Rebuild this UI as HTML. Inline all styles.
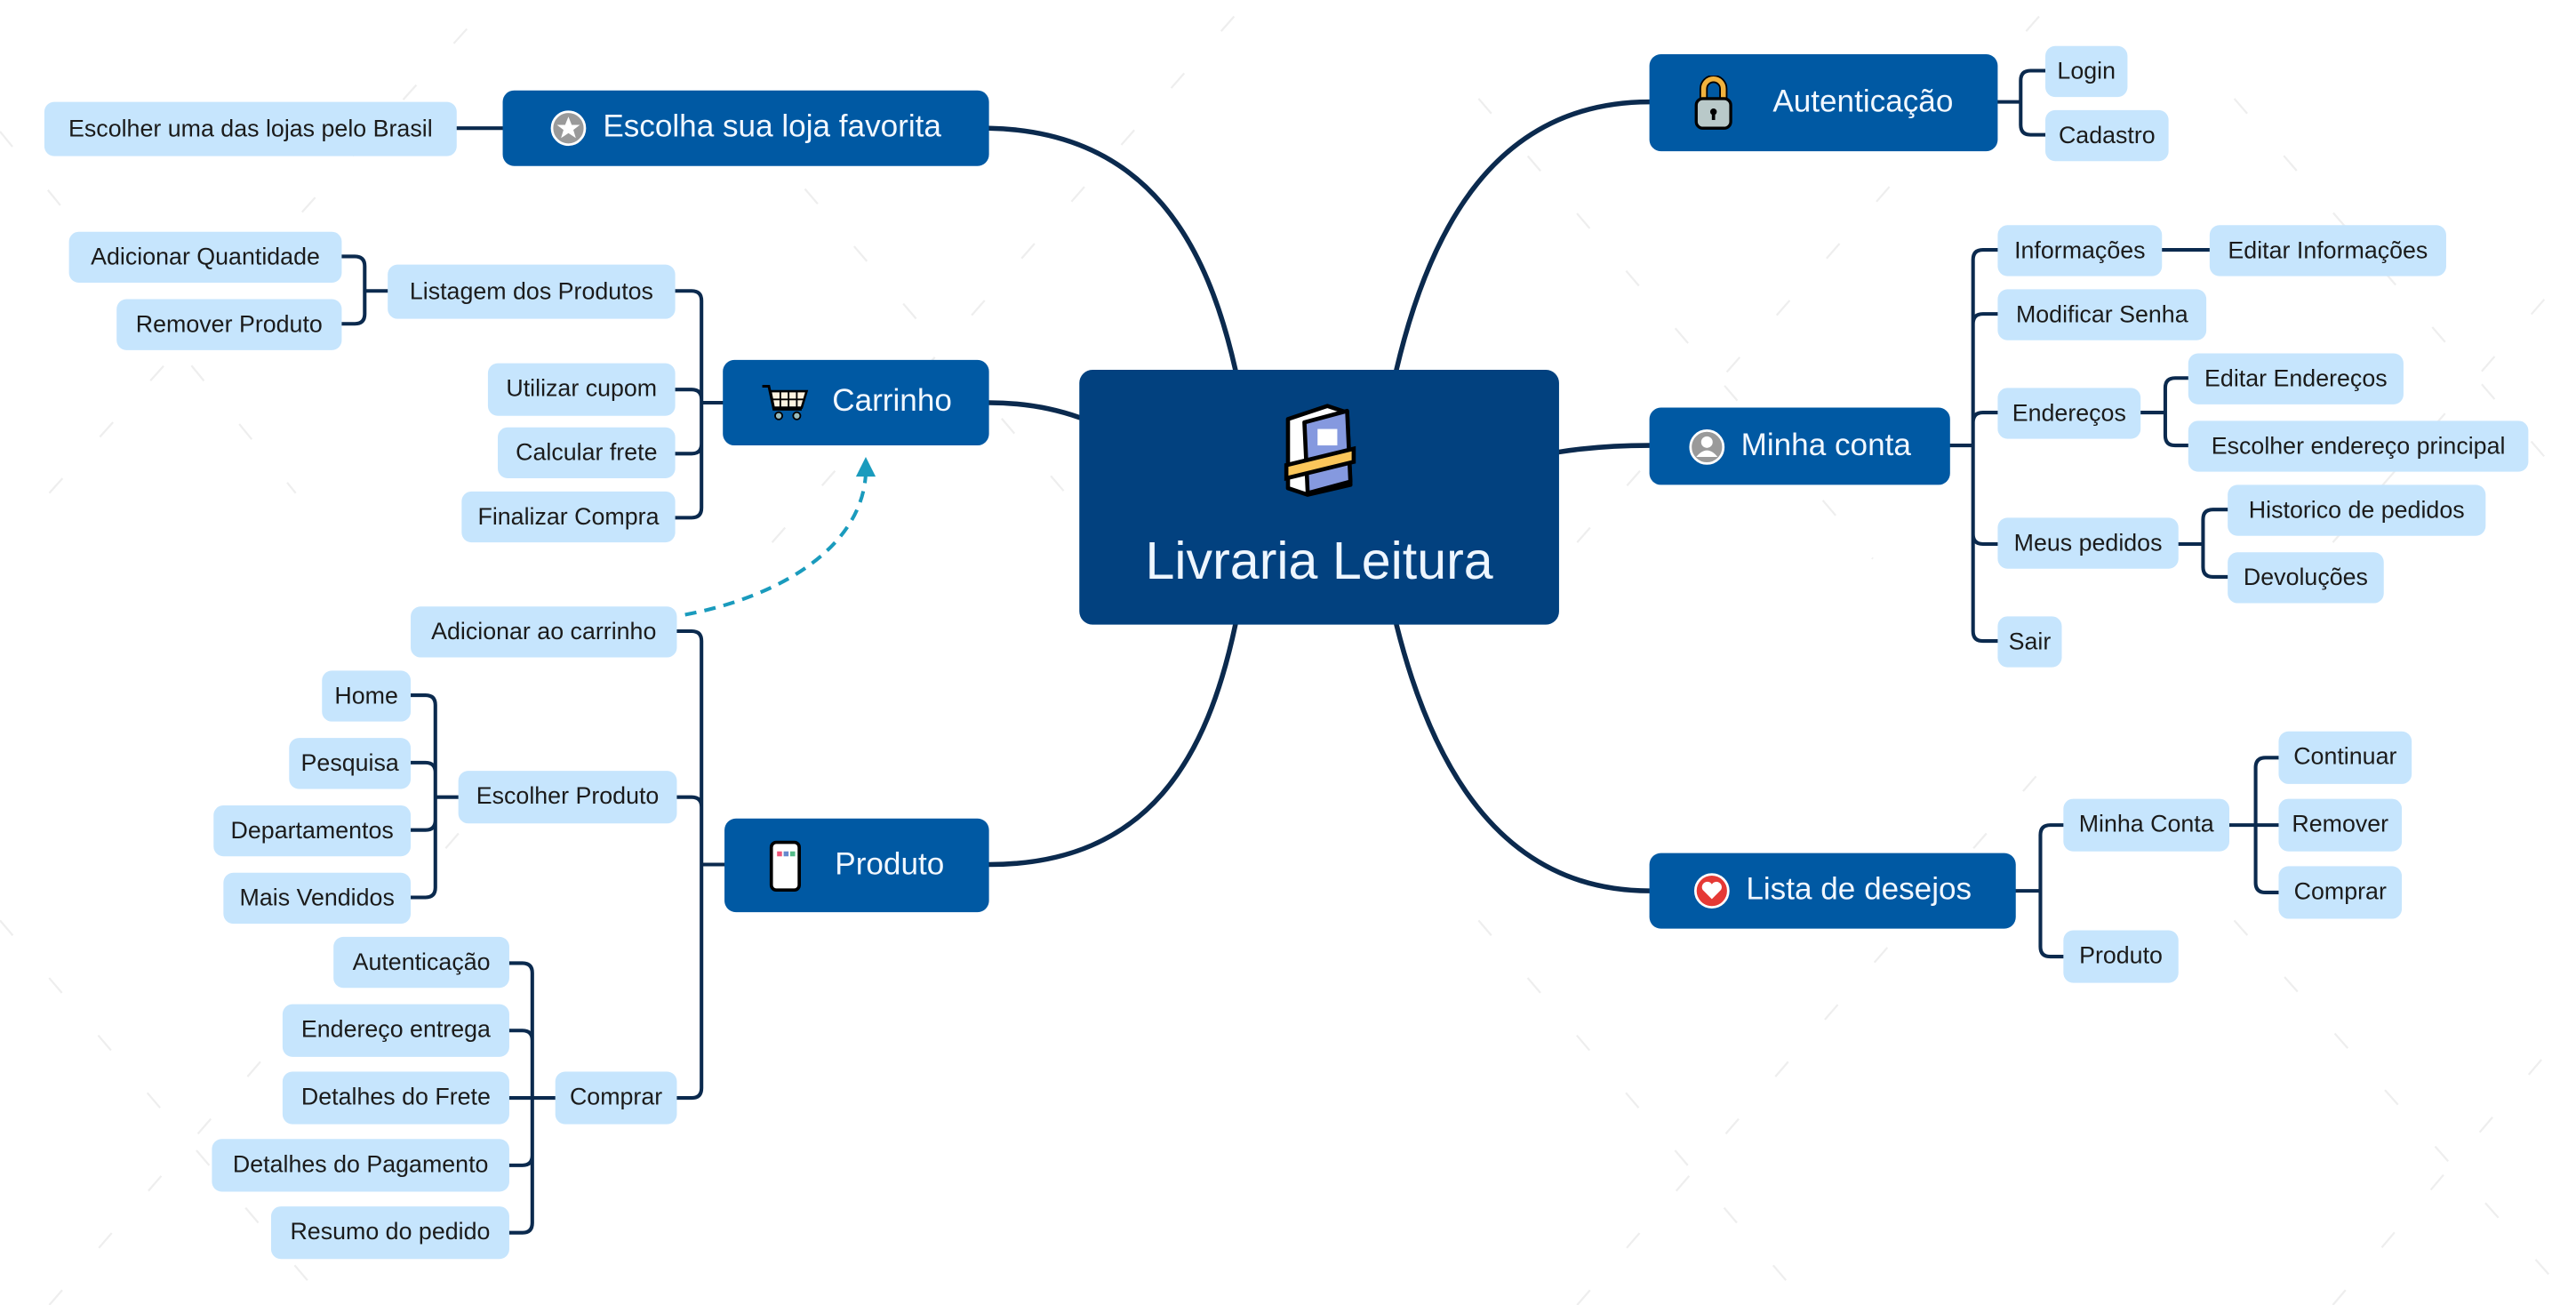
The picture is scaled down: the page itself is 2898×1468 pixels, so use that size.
<!DOCTYPE html>
<html><head><meta charset="utf-8">
<style>
html,body{margin:0;padding:0;background:#fff;overflow:hidden}
#w{width:2898px;height:1468px;position:relative;overflow:hidden;background:#fff}
#c{position:absolute;left:0;top:0;width:1568px;height:794px;transform:scale(1.8482,1.8489);transform-origin:0 0;font-family:"Liberation Sans",sans-serif}
.n{position:absolute;display:flex;align-items:center;justify-content:center;box-sizing:border-box;white-space:nowrap}
.s{background:#c6e5fd;border-radius:6px;font-size:14.5px;color:#1b1b1b}
.m{background:#0059a3;border-radius:7px;font-size:19px;color:#f2f8ff;font-weight:500}
.m svg{margin-right:10px}
svg.l{position:absolute;left:0;top:0}
</style></head><body><div id="w"><div id="c">
<svg class="l" width="1568" height="794" viewBox="0 0 1568 794" fill="none">
<g stroke="#eeeeee" stroke-width="1.2" stroke-dasharray="12 34">
<path d="M0,80 L180,300 M460,80 L700,360 M900,60 L1140,340 M1360,60 L1568,300 M0,560 L200,794 M900,560 L1100,794 M1360,560 L1568,794 M30,300 L300,0 M470,330 L760,0 M960,330 L1250,0 M1420,330 L1568,160 M30,794 L320,460 M960,794 L1250,460 M1420,794 L1568,620"/>
</g>
<g stroke="#0b2a4e" stroke-width="3" stroke-linecap="round">
<path d="M752,225 C735,150 700,80 602,78"/>
<path d="M657,254 C640,248 622,245 602,245"/>
<path d="M752,380 C735,460 700,526 602,526"/>
<path d="M850,225 C870,140 910,62 1004,62"/>
<path d="M949,275 C968,272 985,271 1004,271"/>
<path d="M850,380 C870,460 910,542 1004,542"/>
</g>
<g stroke="#0b2a4e" stroke-width="2.2" stroke-linecap="round">
<path d="M278,78 H306"/>
<path d="M440,245 H427 M427,245 V183 Q427,177 421,177 H411 M427,245 V243 Q427,237 421,237 H411 M427,245 V270 Q427,276 421,276 H411 M427,245 V309 Q427,315 421,315 H411"/>
<path d="M236,177 H222 M222,177 V162 Q222,156 216,156 H208 M222,177 V191 Q222,197 216,197 H208"/>
<path d="M441,526 H427 M427,526 V390 Q427,384 421,384 H412 M427,526 V491 Q427,485 421,485 H412 M427,526 V662 Q427,668 421,668 H412"/>
<path d="M279,485 H265 M265,485 V429 Q265,423 259,423 H250 M265,485 V470 Q265,464 259,464 H250 M265,485 V499 Q265,505 259,505 H250 M265,485 V540 Q265,546 259,546 H250"/>
<path d="M338,668 H324 M324,668 V592 Q324,586 318,586 H310 M324,668 V633 Q324,627 318,627 H310 M324,668 H310 M324,668 V703 Q324,709 318,709 H310 M324,668 V744 Q324,750 318,750 H310"/>
<path d="M1216,62 H1230 M1230,62 V49 Q1230,43 1236,43 H1245 M1230,62 V76 Q1230,82 1236,82 H1245"/>
<path d="M1187,271 H1201 M1201,271 V158 Q1201,152 1207,152 H1216 M1201,271 V197 Q1201,191 1207,191 H1216 M1201,271 V257 Q1201,251 1207,251 H1216 M1201,271 V325 Q1201,331 1207,331 H1216 M1201,271 V384 Q1201,390 1207,390 H1216"/>
<path d="M1316,152 H1345"/>
<path d="M1303,251 H1318 M1318,251 V236 Q1318,230 1324,230 H1332 M1318,251 V265 Q1318,271 1324,271 H1332"/>
<path d="M1326,331 H1341 M1341,331 V316 Q1341,310 1347,310 H1356 M1341,331 V345 Q1341,351 1347,351 H1356"/>
<path d="M1227,542 H1242 M1242,542 V508 Q1242,502 1248,502 H1256 M1242,542 V576 Q1242,582 1248,582 H1256"/>
<path d="M1357,502 H1373 M1373,502 V467 Q1373,461 1379,461 H1387 M1373,502 H1387 M1373,502 V537 Q1373,543 1379,543 H1387"/>
</g>
<path d="M417,374 C480,362 525,330 527,288" stroke="#1a9bbd" stroke-width="2.2" stroke-dasharray="7 5"/>
<path d="M521,290 L527,278 L533,290 Z" fill="#1a9bbd"/>
</svg>

<div class="n" style="left:657px;top:225px;width:292px;height:155px;background:#02417f;border-radius:8px;flex-direction:column">
<svg width="50" height="58" viewBox="0 0 50 58"><path d="M6,10 L30,2 L42,6 L44,50 L18,56 L6,52 Z" fill="#fff" stroke="#000" stroke-width="2.5" stroke-linejoin="round"/><path d="M16,12 L42,5 L44,48 L18,55 Z" fill="#8599df" stroke="#000" stroke-width="2.5" stroke-linejoin="round"/><rect x="24" y="16" width="12" height="10" fill="#fff"/><path d="M5,38 L46,28 L46,36 L5,46 Z" fill="#fbc65a" stroke="#000" stroke-width="2.5"/></svg>
<div style="font-size:32px;color:#eef6ff;margin-top:20px;font-weight:500">Livraria Leitura</div></div>

<div class="n m" style="left:306px;top:55px;width:296px;height:46px"><svg width="22" height="22" viewBox="0 0 22 22"><circle cx="11" cy="11" r="10" fill="#9a9a9a" stroke="#fff" stroke-width="1.5"/><path d="M11,4 L13,9 L18,9 L14,12 L15.5,17 L11,14 L6.5,17 L8,12 L4,9 L9,9 Z" fill="#fff"/></svg>Escolha sua loja favorita</div>
<div class="n m" style="left:440px;top:219px;width:162px;height:52px"><svg width="30" height="24" viewBox="0 0 30 24" style="margin-right:14px"><path d="M1,2 H5 L8,16 H25" stroke="#000" stroke-width="1.6" fill="none"/><path d="M6,5 H28 L25,15 H8 Z" fill="#fdf3e0" stroke="#000" stroke-width="1.4"/><path d="M12,5 V15 M17,5 V15 M22,5 V15 M7,10 H27" stroke="#000" stroke-width="1"/><circle cx="11" cy="20" r="2.2" fill="#9bb" stroke="#000"/><circle cx="22" cy="20" r="2.2" fill="#9bb" stroke="#000"/></svg>Carrinho</div>
<div class="n m" style="left:441px;top:498px;width:161px;height:57px"><svg width="20" height="32" viewBox="0 0 20 32" style="margin-right:20px"><rect x="1.5" y="1.5" width="17" height="29" rx="3" fill="#fff" stroke="#000" stroke-width="2"/><rect x="5" y="7" width="3" height="3" fill="#e57"/><rect x="9" y="7" width="3" height="3" fill="#68c"/><rect x="13" y="7" width="3" height="3" fill="#5b8"/></svg>Produto</div>
<div class="n m" style="left:1004px;top:33px;width:212px;height:59px"><svg width="24" height="34" viewBox="0 0 24 34" style="margin-right:24px"><path d="M6,15 V8 A6,6 0 0 1 18,8 V15" stroke="#000" stroke-width="5" fill="none"/><path d="M6,15 V8 A6,6 0 0 1 18,8 V15" stroke="#f0b23e" stroke-width="3" fill="none"/><rect x="1.5" y="14" width="21" height="18" rx="4" fill="#b9c9c9" stroke="#000" stroke-width="1.8"/><circle cx="12" cy="22" r="2" fill="#000"/><rect x="11" y="22" width="2" height="5" fill="#000"/></svg>Autenticação</div>
<div class="n m" style="left:1004px;top:248px;width:183px;height:47px"><svg width="22" height="22" viewBox="0 0 22 22"><circle cx="11" cy="11" r="10" fill="#9a9a9a" stroke="#fff" stroke-width="1.5"/><circle cx="11" cy="8" r="3.5" fill="#fff"/><path d="M4.5,17 Q11,9 17.5,17 Z" fill="#fff"/></svg>Minha conta</div>
<div class="n m" style="left:1004px;top:519px;width:223px;height:46px"><svg width="22" height="22" viewBox="0 0 22 22"><circle cx="11" cy="11" r="10" fill="#e53935" stroke="#fff" stroke-width="1.5"/><path d="M11,16 L5.5,10.5 A3,3 0 0 1 11,7 A3,3 0 0 1 16.5,10.5 Z" fill="#fff"/></svg>Lista de desejos</div>

<div class="n s" style="left:27px;top:62px;width:251px;height:33px">Escolher uma das lojas pelo Brasil</div>
<div class="n s" style="left:236px;top:161px;width:175px;height:33px">Listagem dos Produtos</div>
<div class="n s" style="left:42px;top:141px;width:166px;height:31px">Adicionar Quantidade</div>
<div class="n s" style="left:71px;top:182px;width:137px;height:31px">Remover Produto</div>
<div class="n s" style="left:297px;top:221px;width:114px;height:32px">Utilizar cupom</div>
<div class="n s" style="left:303px;top:260px;width:108px;height:31px">Calcular frete</div>
<div class="n s" style="left:281px;top:299px;width:130px;height:31px">Finalizar Compra</div>
<div class="n s" style="left:250px;top:369px;width:162px;height:31px">Adicionar ao carrinho</div>
<div class="n s" style="left:196px;top:408px;width:54px;height:31px">Home</div>
<div class="n s" style="left:176px;top:449px;width:74px;height:31px">Pesquisa</div>
<div class="n s" style="left:130px;top:490px;width:120px;height:31px">Departamentos</div>
<div class="n s" style="left:136px;top:531px;width:114px;height:31px">Mais Vendidos</div>
<div class="n s" style="left:279px;top:469px;width:133px;height:32px">Escolher Produto</div>
<div class="n s" style="left:203px;top:570px;width:107px;height:31px">Autenticação</div>
<div class="n s" style="left:172px;top:611px;width:138px;height:32px">Endereço entrega</div>
<div class="n s" style="left:172px;top:652px;width:138px;height:32px">Detalhes do Frete</div>
<div class="n s" style="left:129px;top:693px;width:181px;height:32px">Detalhes do Pagamento</div>
<div class="n s" style="left:165px;top:734px;width:145px;height:32px">Resumo do pedido</div>
<div class="n s" style="left:338px;top:652px;width:74px;height:32px">Comprar</div>

<div class="n s" style="left:1245px;top:28px;width:50px;height:31px">Login</div>
<div class="n s" style="left:1245px;top:67px;width:75px;height:31px">Cadastro</div>
<div class="n s" style="left:1216px;top:137px;width:100px;height:31px">Informações</div>
<div class="n s" style="left:1345px;top:137px;width:144px;height:31px">Editar Informações</div>
<div class="n s" style="left:1216px;top:176px;width:127px;height:31px">Modificar Senha</div>
<div class="n s" style="left:1216px;top:236px;width:87px;height:31px">Endereços</div>
<div class="n s" style="left:1332px;top:215px;width:131px;height:31px">Editar Endereços</div>
<div class="n s" style="left:1332px;top:256px;width:207px;height:31px">Escolher endereço principal</div>
<div class="n s" style="left:1216px;top:315px;width:110px;height:31px">Meus pedidos</div>
<div class="n s" style="left:1356px;top:295px;width:157px;height:31px">Historico de pedidos</div>
<div class="n s" style="left:1356px;top:336px;width:95px;height:31px">Devoluções</div>
<div class="n s" style="left:1216px;top:375px;width:39px;height:31px">Sair</div>
<div class="n s" style="left:1256px;top:486px;width:101px;height:32px">Minha Conta</div>
<div class="n s" style="left:1387px;top:445px;width:81px;height:32px">Continuar</div>
<div class="n s" style="left:1387px;top:486px;width:75px;height:32px">Remover</div>
<div class="n s" style="left:1387px;top:527px;width:75px;height:32px">Comprar</div>
<div class="n s" style="left:1256px;top:566px;width:70px;height:32px">Produto</div>
</div></div></body></html>
